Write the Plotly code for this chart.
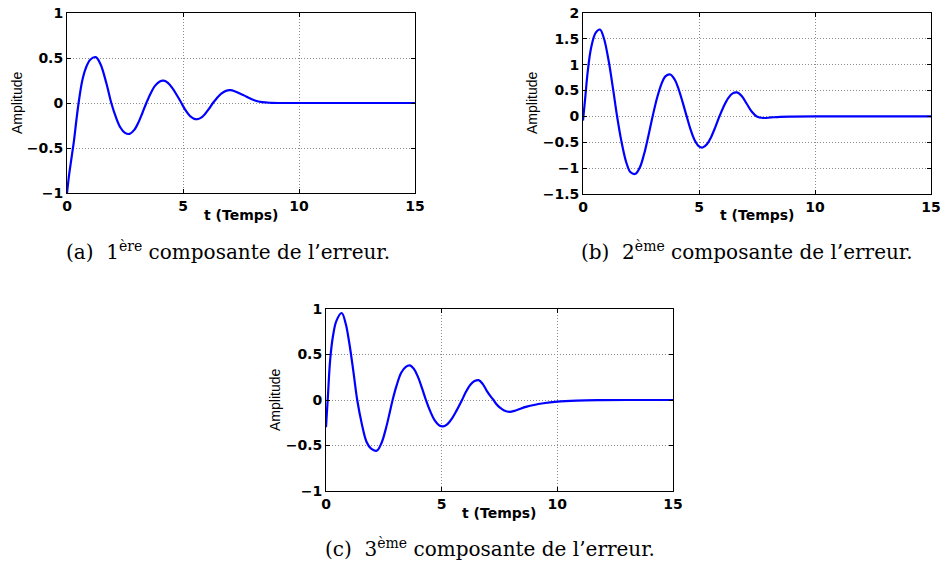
import plotly.graph_objects as go

# ---------------- data ----------------
t_a = [0, 0.1, 0.2, 0.3, 0.4, 0.5, 0.65, 0.8, 1.0, 1.24, 1.45, 1.7, 1.91, 2.1, 2.3, 2.5,
       2.7, 2.9, 3.1, 3.25, 3.42, 3.6, 3.8, 4.0, 4.17, 4.35, 4.55, 4.75, 4.93, 5.1, 5.3,
       5.45, 5.62, 5.8, 5.95, 6.12, 6.29, 6.45, 6.65, 6.85, 7.05, 7.25, 7.45, 7.65, 7.85,
       8.1, 8.4, 8.8, 9.5, 11, 13, 15]
amp_a = [-1.0, -0.78, -0.6, -0.42, -0.2, 0.0, 0.24, 0.38, 0.48, 0.51, 0.428, 0.216, 0.0,
         -0.152, -0.272, -0.332, -0.343, -0.299, -0.204, -0.111, 0.0, 0.104, 0.193, 0.24,
         0.248, 0.224, 0.163, 0.081, 0.0, -0.077, -0.145, -0.172, -0.18, -0.16, -0.122,
         -0.065, 0.0, 0.051, 0.104, 0.135, 0.142, 0.128, 0.105, 0.082, 0.055, 0.028, 0.009,
         0.002, 0.0, 0.0, 0.0, 0.0]

t_b = [0, 0.1, 0.2, 0.35, 0.55, 0.73, 0.9, 1.1, 1.3, 1.47, 1.65, 1.87, 2.05, 2.26, 2.45,
       2.63, 2.8, 3.0, 3.2, 3.38, 3.55, 3.76, 3.95, 4.12, 4.3, 4.47, 4.65, 4.82, 5.0, 5.16,
       5.35, 5.52, 5.7, 5.88, 6.05, 6.26, 6.45, 6.64, 6.85, 7.05, 7.27, 7.49, 7.77, 8.1,
       8.5, 9.0, 10, 12, 15]
amp_b = [-0.08, 0.38, 0.85, 1.33, 1.62, 1.68, 1.512, 1.09, 0.518, 0.0, -0.468, -0.896,
         -1.08, -1.11, -0.986, -0.732, -0.413, 0.0, 0.371, 0.626, 0.774, 0.81, 0.714, 0.529,
         0.268, 0.0, -0.271, -0.466, -0.58, -0.6, -0.533, -0.401, -0.211, 0.0, 0.179, 0.354,
         0.445, 0.465, 0.39, 0.25, 0.095, 0.0, -0.03, -0.02, -0.008, -0.003, 0.0, 0.0, 0.0]

t_c = [0, 0.08, 0.18, 0.3, 0.45, 0.68, 0.85, 1.0, 1.18, 1.35, 1.55, 1.75, 1.95, 2.19, 2.4,
       2.6, 2.75, 2.88, 3.05, 3.25, 3.45, 3.63, 3.8, 3.97, 4.15, 4.32, 4.5, 4.7, 4.9, 5.07,
       5.25, 5.45, 5.65, 5.88, 6.05, 6.25, 6.42, 6.6, 6.78, 6.95, 7.1, 7.24, 7.4, 7.52, 7.7,
       7.93, 8.2, 8.68, 9.4, 10.0, 10.84, 11.8, 13, 15]
amp_c = [-0.30, 0.03, 0.44, 0.70, 0.87, 0.956, 0.84, 0.637, 0.32, 0.0, -0.265, -0.458,
         -0.535, -0.558, -0.472, -0.302, -0.143, 0.0, 0.158, 0.299, 0.365, 0.38, 0.342,
         0.257, 0.131, 0.0, -0.12, -0.224, -0.28, -0.29, -0.265, -0.202, -0.114, 0.0, 0.09,
         0.171, 0.208, 0.218, 0.175, 0.10, 0.045, 0.0, -0.055, -0.084, -0.115, -0.13, -0.115,
         -0.073, -0.036, -0.018, -0.007, -0.002, 0.0, 0.0]

x_ticks = [0, 5, 10, 15]
y_ticks_a = [-1, -0.5, 0, 0.5, 1]
y_ticks_b = [-1.5, -1, -0.5, 0, 0.5, 1, 1.5, 2]
y_ticks_c = [-1, -0.5, 0, 0.5, 1]

captions = ["(a)  1<sup>ère</sup> composante de l’erreur.",
            "(b)  2<sup>ème</sup> composante de l’erreur.",
            "(c)  3<sup>ème</sup> composante de l’erreur."]
x_label = "t (Temps)"
y_label = "Amplitude"

# ---------------- layout helpers ----------------
W, H = 941, 562


def fx(px):
    return px / W


def fy(py):
    return 1 - py / H


panels = [
    dict(t=t_a, y=amp_a, yt=y_ticks_a, yr=[-1, 1], box=(67, 415, 13, 193),
         cap=(228, 251), ylab=(17, 103), xlab=(241, 215)),
    dict(t=t_b, y=amp_b, yt=y_ticks_b, yr=[-1.5, 2], box=(583, 931, 13, 194),
         cap=(747, 251), ylab=(532, 103), xlab=(757, 215)),
    dict(t=t_c, y=amp_c, yt=y_ticks_c, yr=[-1, 1], box=(326, 673, 309, 491),
         cap=(490, 548), ylab=(275, 400), xlab=(499, 513)),
]

tick_font = dict(family="DejaVu Sans", size=14, color="black", weight="bold")

fig = go.Figure()
annotations = []
layout = {}
for i, p in enumerate(panels):
    sfx = "" if i == 0 else str(i + 1)
    fig.add_trace(go.Scatter(
        x=p["t"], y=p["y"], mode="lines",
        line=dict(color="rgb(0,0,255)", width=2.2, shape="spline", smoothing=1.0),
        xaxis="x" + sfx, yaxis="y" + sfx, showlegend=False, hoverinfo="skip"))
    x0, x1, y0, y1 = p["box"]
    common = dict(showline=True, linecolor="black", linewidth=1, mirror="ticks",
                  ticks="inside", ticklen=4, tickcolor="black", tickwidth=1,
                  showgrid=True, gridcolor="#8c8c8c", griddash="1px,2px", gridwidth=1,
                  zeroline=False, tickfont=tick_font, fixedrange=True,
                  automargin=False)
    layout["xaxis" + sfx] = dict(domain=[fx(x0), fx(x1)], range=[0, 15],
                                 tickvals=x_ticks, anchor="y" + sfx, **common)
    layout["yaxis" + sfx] = dict(domain=[fy(y1), fy(y0)], range=p["yr"],
                                 tickvals=p["yt"], anchor="x" + sfx, **common)
    annotations.append(dict(text=captions[i], x=fx(p["cap"][0]), y=fy(p["cap"][1]),
                            xref="paper", yref="paper", showarrow=False,
                            xanchor="center", yanchor="middle",
                            font=dict(family="DejaVu Serif", size=20, color="black")))
    annotations.append(dict(text=y_label, x=fx(p["ylab"][0]), y=fy(p["ylab"][1]),
                            xref="paper", yref="paper", showarrow=False, textangle=-90,
                            xanchor="center", yanchor="middle",
                            font=dict(family="Liberation Sans", size=14, color="black")))
    annotations.append(dict(text=x_label, x=fx(p["xlab"][0]), y=fy(p["xlab"][1]),
                            xref="paper", yref="paper", showarrow=False,
                            xanchor="center", yanchor="middle",
                            font=dict(family="DejaVu Sans", size=14, color="black",
                                      weight="bold")))

fig.update_layout(width=W, height=H, margin=dict(l=0, r=0, t=0, b=0, autoexpand=False),
                  paper_bgcolor="white", plot_bgcolor="white",
                  annotations=annotations, showlegend=False, **layout)

fig.write_html("out.html",
               config={"displayModeBar": False, "staticPlot": True},
               post_script="document.body.style.margin='0px';"
                           "document.body.style.overflow='hidden';")
